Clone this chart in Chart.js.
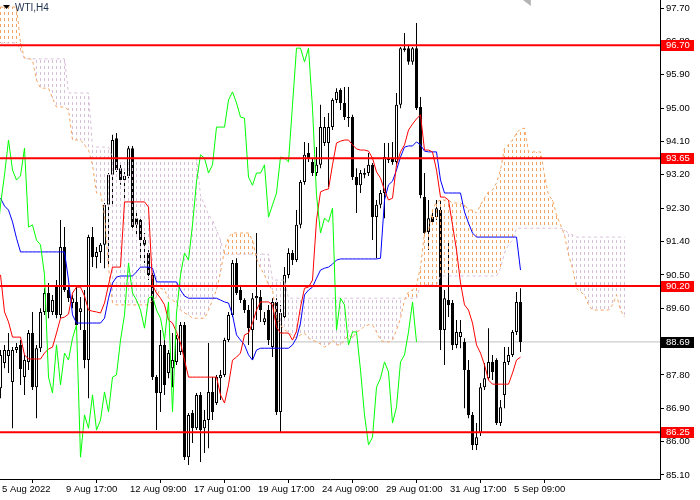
<!DOCTYPE html>
<html><head><meta charset="utf-8">
<script src="https://cdn.jsdelivr.net/npm/chart.js@4.4.1/dist/chart.umd.min.js"></script>
<style>html,body{margin:0;padding:0;background:#fff;overflow:hidden}</style>
</head><body>
<canvas id="c" width="700" height="500" style="display:block;width:700px;height:500px"></canvas>
<script>
const symbolLabel = 'WTI,H4';
const xLabels = ['5 Aug 2022','9 Aug 17:00','12 Aug 09:00','17 Aug 01:00','19 Aug 17:00','24 Aug 09:00','29 Aug 01:00','31 Aug 17:00','5 Sep 09:00'];
const xLabelBars = [0,16,32,48,64,80,96,112,128];
const yTicks = [85.10,86.00,86.90,87.80,88.70,89.60,90.50,91.40,92.30,93.20,94.10,95.00,95.90,96.80,97.70];
const levels = [96.70, 93.65, 90.20, 86.25];
const bidPrice = 88.69;
const kumoShift = 26;

const open = [
87.44,88.12,88.31,87.61,88.47,88.61,87.74,88.15,88.93,87.47,
88.52,89.50,90.01,89.50,90.23,89.42,91.25,90.09,89.74,89.77,
89.50,89.01,88.20,91.52,90.98,91.12,91.31,92.39,93.20,94.19,
93.38,93.06,93.17,93.92,92.03,91.98,91.44,91.09,90.50,87.74,
87.31,88.61,87.85,87.98,88.15,88.42,89.15,85.58,86.77,86.36,
87.26,86.36,86.58,87.34,87.04,87.71,87.80,88.74,89.42,90.82,
90.09,89.82,89.55,89.01,89.87,89.90,89.23,89.55,88.55,89.77,
86.80,89.36,90.50,91.09,90.90,91.85,93.01,93.79,93.55,93.25,
93.47,94.06,94.06,94.49,95.22,95.49,95.14,94.76,94.76,93.14,
92.92,93.20,93.25,93.47,92.06,92.39,92.71,93.60,93.65,93.55,
95.09,96.57,96.62,96.25,96.62,95.03,92.60,91.66,92.06,92.06,
92.25,89.01,89.82,89.74,88.61,88.82,88.69,87.93,86.72,85.91,
86.23,87.47,87.71,88.15,88.20,86.50,87.26,88.15,88.34,88.96,
89.77];
const high = [
88.47,88.61,88.93,88.55,88.66,88.74,88.34,89.01,89.50,88.61,
89.60,90.14,90.28,89.96,90.36,91.98,91.79,90.17,89.96,90.23,
89.90,90.09,91.58,91.79,91.25,91.36,92.44,93.25,94.28,94.33,
93.47,93.28,93.98,93.98,92.20,92.06,91.63,91.17,90.58,87.80,
89.01,88.74,88.47,88.93,88.88,89.23,89.23,86.77,86.85,87.31,
87.34,86.85,88.66,87.74,87.80,87.93,88.80,89.50,90.90,90.95,
90.17,89.87,89.69,90.01,91.63,90.09,89.50,89.69,89.87,89.87,
89.69,90.71,91.22,91.17,92.25,93.06,94.09,94.06,93.65,93.95,
95.09,94.76,94.87,95.27,95.54,95.54,95.57,95.57,94.82,93.38,
93.33,93.38,93.79,93.52,92.52,92.79,94.06,94.06,94.09,95.41,
96.65,97.03,96.70,96.65,97.30,95.30,93.25,92.52,92.17,92.52,
92.52,90.09,91.36,89.82,89.28,89.28,88.79,88.20,86.80,86.50,
87.58,88.12,89.06,88.34,88.25,87.12,88.55,88.55,89.01,90.04,
90.14];
const low = [
87.17,87.98,87.85,86.36,88.39,87.53,87.26,87.93,87.39,86.63,
88.42,89.42,89.33,89.42,89.33,89.33,90.04,89.77,89.60,89.06,
89.01,87.98,87.17,90.71,90.68,90.82,90.68,90.71,92.33,93.28,
92.93,92.52,93.11,91.71,91.52,90.90,90.82,90.36,87.66,86.31,
86.80,87.26,87.71,87.47,88.07,88.34,85.50,85.37,85.96,86.31,
85.45,85.69,85.82,86.58,86.99,87.12,87.74,88.69,89.36,89.96,
89.74,89.47,88.61,88.20,89.28,89.23,89.15,88.61,88.28,86.72,
86.26,89.28,90.41,90.77,90.85,91.76,92.93,93.55,93.17,93.17,
93.38,93.98,92.87,94.41,95.14,94.95,94.68,94.49,93.06,92.17,
92.71,93.11,93.17,91.44,90.95,92.30,92.03,93.52,93.47,93.47,
95.00,96.52,96.17,96.17,94.95,92.57,91.55,91.17,91.85,91.98,
88.47,88.07,89.36,88.47,88.52,88.52,86.90,86.63,85.77,85.77,
86.15,87.39,87.66,87.66,86.45,86.42,86.90,88.07,88.28,88.88,
88.42];
const close = [
88.34,88.47,88.47,88.47,88.55,87.96,88.20,88.93,87.47,88.52,
89.50,90.01,89.50,89.82,89.42,91.25,90.09,89.87,89.87,89.15,
89.60,88.20,91.52,90.98,91.12,91.31,92.39,93.20,94.14,93.33,
93.06,93.17,93.92,91.79,91.85,91.44,91.31,90.50,87.74,87.31,
88.61,87.53,88.39,88.20,88.79,89.15,85.58,86.72,86.36,87.26,
86.31,86.58,87.34,86.80,87.74,87.80,88.74,89.42,90.82,90.01,
89.82,89.55,89.06,89.87,89.93,89.55,89.33,88.74,89.77,86.80,
89.47,90.50,91.09,90.90,91.85,93.01,93.74,93.65,93.25,93.47,
94.49,94.49,94.49,95.22,95.44,95.14,94.76,94.73,93.14,92.92,
93.25,93.25,93.47,92.06,92.39,92.71,93.68,93.65,93.55,95.09,
96.62,96.62,96.25,96.62,95.00,92.65,91.63,92.03,91.93,92.30,
89.01,89.87,89.69,88.61,88.96,88.96,87.93,86.72,85.91,86.12,
87.47,87.71,88.15,87.88,86.50,86.93,88.15,88.34,88.96,89.77,
88.69];
const tenkan = [
90.50,89.50,89.23,88.82,88.82,88.82,88.34,88.23,88.23,88.23,
88.23,88.39,88.50,88.55,88.93,89.33,89.36,89.44,90.01,90.17,
90.17,89.93,89.55,89.52,89.50,89.47,89.74,90.23,90.71,90.71,
90.71,92.47,92.47,92.47,92.47,92.47,92.47,92.33,90.23,90.01,
89.87,89.69,89.28,89.20,88.96,88.66,88.20,87.74,87.74,87.74,
87.74,87.74,87.74,87.74,87.74,87.26,87.04,87.53,88.20,88.28,
88.39,88.88,88.93,89.20,89.55,89.77,89.77,89.77,89.69,89.09,
88.93,88.93,88.93,88.74,88.98,89.63,90.14,90.17,90.36,91.98,
92.74,92.79,92.82,93.47,94.06,94.11,94.14,94.14,94.01,93.90,
93.87,93.87,93.84,93.65,93.28,93.11,92.79,92.52,92.57,93.47,
93.82,94.01,94.41,94.57,94.71,94.82,93.87,93.87,93.82,93.33,
92.60,92.60,92.52,91.85,91.17,90.28,89.69,89.55,89.20,88.61,
88.39,88.07,87.66,87.55,87.55,87.55,87.55,87.55,87.85,88.20,
88.28];
const kijun = [
92.57,92.36,92.25,91.93,91.49,91.12,91.12,91.12,91.12,91.12,
91.12,91.12,91.12,91.12,91.12,91.12,91.12,90.36,89.42,89.20,
89.20,89.20,89.20,89.20,89.20,89.20,89.33,89.87,90.28,90.44,
90.47,90.47,90.47,90.47,90.58,90.71,90.71,90.71,90.68,90.31,
90.31,90.31,90.31,90.31,90.31,90.09,89.93,89.87,89.87,89.87,
89.87,89.87,89.87,89.87,89.87,89.82,89.77,89.74,89.42,88.88,
88.74,88.61,88.34,88.20,88.47,88.52,88.52,88.52,88.52,88.52,
88.52,88.52,88.52,88.61,88.79,89.20,89.96,90.09,90.17,90.41,
90.63,90.68,90.71,90.79,90.90,90.93,90.93,90.93,90.93,90.93,
90.93,90.93,90.93,90.93,90.93,90.95,92.52,92.93,93.03,93.33,
93.68,93.95,93.98,93.98,94.09,94.01,93.84,93.82,93.82,93.82,
93.06,92.71,92.71,92.71,92.71,92.71,92.20,91.90,91.63,91.52,
91.52,91.52,91.52,91.52,91.52,91.52,91.52,91.52,91.52,91.52,
90.63];
const spanA = [
97.73,97.73,97.73,97.73,97.73,96.76,96.35,96.35,96.30,95.76,
95.54,95.54,95.54,95.27,95.03,95.03,95.03,94.95,94.14,94.14,
94.14,94.01,93.87,93.47,92.71,92.71,92.12,90.71,89.74,89.69,
89.69,89.69,89.69,89.69,89.69,89.69,89.69,89.69,89.82,89.90,
90.14,90.09,89.87,89.82,89.74,89.55,89.47,89.42,89.33,89.33,
89.33,89.33,89.55,89.82,90.09,90.58,91.17,91.52,91.63,91.63,
91.63,91.63,91.63,91.44,90.95,90.68,90.50,90.23,90.09,89.33,
89.15,89.01,88.96,88.85,88.79,88.88,88.93,88.79,88.74,88.69,
88.63,88.55,88.61,88.74,88.61,88.61,88.74,88.88,88.79,88.96,
89.01,89.12,89.15,89.15,88.96,88.74,88.69,88.69,88.74,89.01,
89.33,89.82,90.04,90.09,90.23,90.71,91.63,91.71,92.25,92.47,
92.52,92.52,92.52,92.44,92.44,92.44,92.39,92.25,92.25,92.17,
92.39,92.57,92.74,92.79,92.98,93.33,93.92,94.01,94.14,94.33,
94.44,94.46,93.82,93.82,93.82,93.82,93.20,92.65,92.52,92.12,
91.85,91.58,91.04,90.68,90.14,90.04,89.96,89.69,89.55,89.55,
89.55,89.55,89.55,89.69,89.96,89.55,89.36];
const spanB = [
96.76,96.76,96.76,96.76,96.76,96.57,96.33,96.33,96.33,96.33,
96.33,96.33,96.33,96.33,96.33,96.33,96.33,95.41,95.41,95.41,
95.41,95.41,95.41,93.95,93.95,93.95,93.95,93.95,93.65,93.65,
93.65,93.65,93.65,93.65,93.65,93.65,93.65,93.65,93.65,93.65,
93.65,93.65,93.65,93.65,93.65,93.65,93.65,93.65,93.65,93.65,
92.65,92.39,92.12,91.98,91.71,91.44,91.06,91.06,91.06,91.06,
91.06,91.06,91.06,91.06,91.06,91.06,91.06,91.06,90.36,90.36,
90.36,90.36,89.87,89.87,89.87,89.87,89.87,89.87,89.87,89.87,
89.87,89.87,89.87,89.87,89.87,89.87,89.87,89.87,89.87,89.87,
89.87,89.87,89.87,89.87,89.87,89.87,89.87,89.87,89.87,89.87,
89.87,89.87,89.87,89.87,89.87,90.23,90.23,90.23,90.23,90.23,
90.47,90.47,90.47,90.47,90.47,90.47,90.47,90.47,90.47,90.47,
90.47,90.47,90.47,90.47,90.47,90.68,91.09,91.31,91.44,91.76,
91.76,91.76,91.76,91.76,91.76,91.76,91.76,91.76,91.76,91.76,
91.76,91.71,91.63,91.58,91.52,91.52,91.52,91.52,91.52,91.52,
91.52,91.52,91.52,91.52,91.52,91.52,91.52];

const X_MIN = -0.125, X_MAX = 164.875, Y_MIN = 84.99, Y_MAX = 97.92;
const FONT = 'Liberation Sans';

const canvas = document.getElementById('c');
const mainCtx = canvas.getContext('2d');
function dashPattern(color) {
  const c = document.createElement('canvas');
  c.width = 1; c.height = 6;
  const g = c.getContext('2d');
  g.fillStyle = color; g.fillRect(0, 0, 1, 3);
  return mainCtx.createPattern(c, 'repeat');
}
const SANDY = '#F4A460', THISTLE = '#D8BFD8';

const wickData = open.map((o, i) => ({x: i, y: [low[i], high[i]]}));
const bodyData = open.map((o, i) => ({x: i, y: [o, close[i]]}));
const bodyColors = open.map((o, i) => close[i] >= o ? '#ffffff' : '#000000');
const cloudUp = spanA.map((a, i) => ({x: i, y: [spanB[i], a], up: a >= spanB[i]})).filter(d => d.up);
const cloudDn = spanA.map((a, i) => ({x: i, y: [a, spanB[i]], up: a >= spanB[i]})).filter(d => !d.up);
const pts = arr => arr.map((v, i) => ({x: i, y: v}));
const chikouPts = close.map((c, i) => ({x: i - kumoShift, y: c}));
const hLine = v => [{x: X_MIN, y: v}, {x: X_MAX, y: v}];

const lineBase = {type: 'line', pointRadius: 0, borderWidth: 1, tension: 0, fill: false};
const barBase = {type: 'bar', grouped: false, borderSkipped: false, inflateAmount: 0};

const datasets = [];
levels.forEach(v => datasets.push({...lineBase, data: hLine(v), borderColor: '#ff0000', borderWidth: 2, order: 0}));
datasets.push({...lineBase, data: chikouPts, borderColor: '#00ff00', order: 2});
datasets.push({...lineBase, data: pts(tenkan), borderColor: '#ff0000', order: 3});
datasets.push({...lineBase, data: pts(kijun), borderColor: '#0000ff', order: 4});
datasets.push({...lineBase, data: pts(spanA), borderColor: SANDY, borderDash: [3, 3], order: 5});
datasets.push({...lineBase, data: pts(spanB), borderColor: THISTLE, borderDash: [3, 3], order: 6});
datasets.push({...barBase, data: cloudUp, backgroundColor: dashPattern(SANDY), borderWidth: 0, barThickness: 1, order: 7});
datasets.push({...barBase, data: cloudDn, backgroundColor: dashPattern(THISTLE), borderWidth: 0, barThickness: 1, order: 8});
datasets.push({...barBase, data: bodyData, backgroundColor: bodyColors, borderColor: '#000000', borderWidth: 1, barThickness: 3, order: 9});
datasets.push({...barBase, data: wickData, backgroundColor: '#000000', borderWidth: 0, barThickness: 1, order: 10});
datasets.push({...lineBase, data: hLine(bidPrice), borderColor: '#c0c0c0', order: 11});

const overlay = {
  id: 'overlay',
  afterDraw(chart) {
    const {ctx, chartArea, scales} = chart;
    const y = scales.y, x = scales.x;
    ctx.save();
    ctx.font = '9.5px "' + FONT + '"';
    ctx.textBaseline = 'middle';
    ctx.textAlign = 'left';
    const tag = (val, bg) => {
      const py = Math.round(y.getPixelForValue(val));
      ctx.fillStyle = bg;
      ctx.fillRect(chartArea.right + 1, py - 5, 33, 11);
      ctx.fillStyle = '#ffffff';
      ctx.fillText(val.toFixed(2), chartArea.right + 6, py + 0.5);
    };
    levels.forEach(v => tag(v, '#ff0000'));
    tag(bidPrice, '#000000');
    ctx.fillStyle = '#000000';
    ctx.beginPath(); ctx.moveTo(3, 5); ctx.lineTo(10, 5); ctx.lineTo(6.5, 9); ctx.closePath(); ctx.fill();
    ctx.fillStyle = '#1c2f4f';
    ctx.font = '10px "' + FONT + '"';
    ctx.textBaseline = 'alphabetic';
    ctx.fillText(symbolLabel, 15, 11);
    const sx = x.getPixelForValue(close.length + 0.6);
    ctx.fillStyle = '#b4b4b4';
    ctx.beginPath(); ctx.moveTo(sx - 4, 0); ctx.lineTo(sx + 4, 0); ctx.lineTo(sx + 4, 6); ctx.closePath(); ctx.fill();
    ctx.restore();
  }
};

Chart.defaults.font.family = FONT;
new Chart(canvas, {
  type: 'bar',
  data: {datasets},
  plugins: [overlay],
  options: {
    responsive: false,
    animation: false,
    events: [],
    layout: {padding: 0, autoPadding: false},
    plugins: {legend: {display: false}, tooltip: {enabled: false}},
    scales: {
      x: {
        type: 'linear', min: X_MIN, max: X_MAX, offset: false, bounds: 'data', position: 'bottom',
        afterBuildTicks: s => { s.ticks = xLabelBars.map(v => ({value: v})); },
        afterFit: s => { s.height = 21; s.paddingLeft = 0; s.paddingRight = 0; },
        grid: {drawOnChartArea: false, drawTicks: true, tickLength: 4, color: '#000000'},
        border: {display: true, color: '#000000', width: 1},
        ticks: {autoSkip: false, maxRotation: 0, minRotation: 0, align: 'start', labelOffset: 1.5, padding: 1,
          color: '#000000', font: {family: FONT, size: 9.5}, callback: (v, i) => xLabels[i]}
      },
      y: {
        type: 'linear', min: Y_MIN, max: Y_MAX, bounds: 'data', position: 'right',
        afterBuildTicks: s => { s.ticks = yTicks.map(v => ({value: v})); },
        afterFit: s => { s.width = 40; s.paddingTop = 0; s.paddingBottom = 0; },
        grid: {drawOnChartArea: false, drawTicks: true, tickLength: 4, color: '#000000'},
        border: {display: true, color: '#000000', width: 1},
        ticks: {autoSkip: false, padding: 2, color: '#000000', font: {family: FONT, size: 9.5},
          callback: v => Number(v).toFixed(2)}
      }
    }
  }
});
</script>
</body></html>
